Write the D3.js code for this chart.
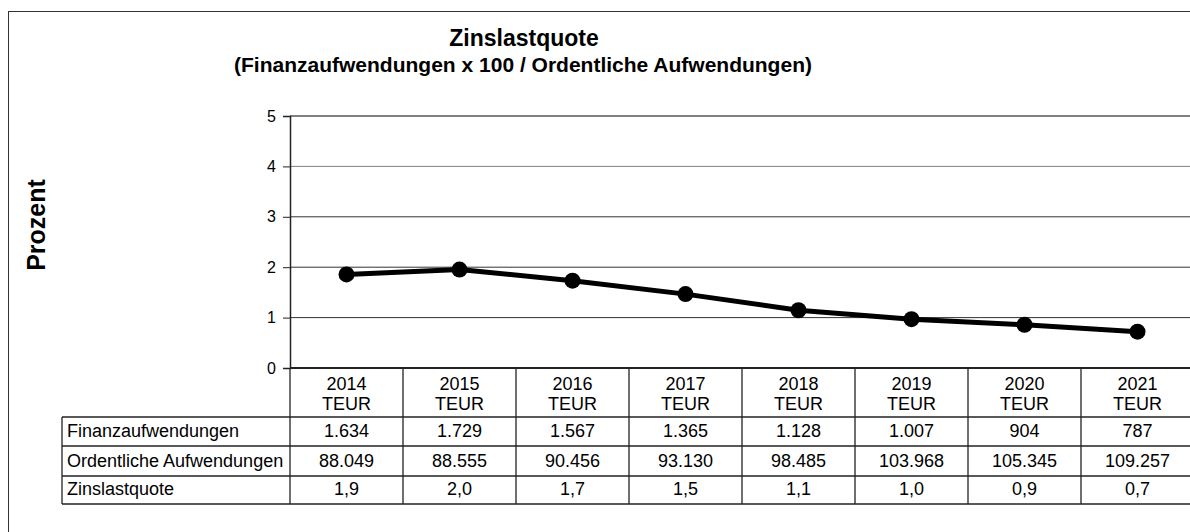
<!DOCTYPE html>
<head>
  <meta charset="utf-8">
  <script src="https://d3js.org/d3.v7.min.js"></script>
  <style>
    body { margin: 0; background: #fff; }
    svg { display: block; font-family: Arial, "Liberation Sans", sans-serif; }
    .title { font-weight: bold; fill: #000; }
    .cell { font-size: 18px; fill: #000; }
    .axis-y text { font-size: 16px; fill: #000; }
  </style>
</head>
<body>

  <svg width="1190" height="532"></svg>

  <script>

  // Data
  var years = ["2014", "2015", "2016", "2017", "2018", "2019", "2020", "2021"];
  var finanz = [1634, 1729, 1567, 1365, 1128, 1007, 904, 787];
  var ordentlich = [88049, 88555, 90456, 93130, 98485, 103968, 105345, 109257];
  var quote = [1.856, 1.953, 1.732, 1.466, 1.146, 0.969, 0.858, 0.720];
  var yTicks = [0, 1, 2, 3, 4, 5];
  var rowLabels = ["Finanzaufwendungen", "Ordentliche Aufwendungen", "Zinslastquote"];

  var svg = d3.select('svg');

  // German number format
  var de = d3.formatLocale({decimal: ",", thousands: ".", grouping: [3], currency: ["", " €"]});
  var fmtInt = de.format(",d");
  var fmtDec = de.format(".1f");

  var plotLeft = 290, plotTop = 116, plotBottom = 368, colW = 113;
  var tableLeft = 62;

  var x = d3.scaleBand().domain(years).range([plotLeft, plotLeft + colW * years.length]);
  var y = d3.scaleLinear().domain([0, 5]).range([plotBottom, plotTop]);

  // outer frame
  svg.append('rect')
    .attr('x', 8.5).attr('y', 11.5)
    .attr('width', 1200).attr('height', 540)
    .attr('fill', 'none').attr('stroke', '#333').attr('stroke-width', 1);

  // titles
  svg.append('text').attr('class', 'title')
    .attr('x', 524).attr('y', 46)
    .attr('text-anchor', 'middle')
    .style('font-size', '23px')
    .text('Zinslastquote');

  svg.append('text').attr('class', 'title')
    .attr('x', 523).attr('y', 72)
    .attr('text-anchor', 'middle')
    .style('font-size', '21px')
    .text('(Finanzaufwendungen x 100 / Ordentliche Aufwendungen)');

  svg.append('text').attr('class', 'title')
    .attr('transform', 'translate(45,225) rotate(-90)')
    .attr('text-anchor', 'middle')
    .style('font-size', '25px')
    .text('Prozent');

  // grid lines
  svg.append('g').selectAll('line')
    .data(yTicks.filter(function(d) { return d > 0; }))
    .enter().append('line')
    .attr('x1', plotLeft).attr('x2', x.range()[1])
    .attr('y1', function(d) { return y(d); })
    .attr('y2', function(d) { return y(d); })
    .attr('stroke', function(d) { return d >= 4 ? '#808080' : '#333'; })
    .attr('stroke-width', function(d) { return d == 5 ? 2 : 1; });

  // y axis
  var yAxis = d3.axisLeft(y).tickValues(yTicks).tickSize(7).tickPadding(7).tickFormat(d3.format('d'));
  var gy = svg.append('g')
    .attr('class', 'axis-y')
    .attr('transform', 'translate(' + plotLeft + ',0)')
    .call(yAxis);
  gy.select('.domain').attr('stroke', '#222').attr('stroke-width', 1.5);
  gy.selectAll('.tick line').attr('stroke', '#222');

  // line + markers
  var line = d3.line()
    .x(function(d, i) { return x(years[i]) + x.bandwidth() / 2; })
    .y(function(d) { return y(d); });

  svg.append('path')
    .datum(quote)
    .attr('d', line)
    .attr('fill', 'none')
    .attr('stroke', '#000')
    .attr('stroke-width', 5)
    .attr('stroke-linejoin', 'round');

  svg.append('g').selectAll('circle')
    .data(quote)
    .enter().append('circle')
    .attr('cx', function(d, i) { return x(years[i]) + x.bandwidth() / 2; })
    .attr('cy', function(d) { return y(d); })
    .attr('r', 8)
    .attr('fill', '#000');

  // data table
  var rowTops = [368, 417, 446, 476, 504];
  var table = svg.append('g').attr('class', 'table');
  var tableRight = x.range()[1];

  // x axis line (top of table)
  table.append('line')
    .attr('x1', plotLeft).attr('x2', tableRight)
    .attr('y1', rowTops[0]).attr('y2', rowTops[0])
    .attr('stroke', '#222').attr('stroke-width', 2);

  // horizontal rules
  table.selectAll('line.h')
    .data(rowTops.slice(1))
    .enter().append('line').attr('class', 'h')
    .attr('x1', tableLeft).attr('x2', tableRight)
    .attr('y1', function(d) { return d; }).attr('y2', function(d) { return d; })
    .attr('stroke', '#222').attr('stroke-width', 1.3);

  // vertical rules
  table.selectAll('line.v')
    .data(years.concat(['end']))
    .enter().append('line').attr('class', 'v')
    .attr('x1', function(d, i) { return plotLeft + i * colW; })
    .attr('x2', function(d, i) { return plotLeft + i * colW; })
    .attr('y1', rowTops[0]).attr('y2', rowTops[4])
    .attr('stroke', '#222').attr('stroke-width', 1.3);

  table.append('line')
    .attr('x1', tableLeft).attr('x2', tableLeft)
    .attr('y1', rowTops[1]).attr('y2', rowTops[4])
    .attr('stroke', '#222').attr('stroke-width', 1.3);

  // header cells
  var head = table.selectAll('g.head')
    .data(years)
    .enter().append('g').attr('class', 'head')
    .attr('transform', function(d) { return 'translate(' + (x(d) + x.bandwidth() / 2) + ',0)'; });
  head.append('text').attr('class', 'cell')
    .attr('y', 390).attr('text-anchor', 'middle')
    .text(function(d) { return d; });
  head.append('text').attr('class', 'cell')
    .attr('y', 410).attr('text-anchor', 'middle')
    .text('TEUR');

  // rows
  var baselines = [437, 467, 495];
  var rows = [finanz.map(fmtInt), ordentlich.map(fmtInt), quote.map(fmtDec)];

  table.selectAll('text.label')
    .data(rowLabels)
    .enter().append('text').attr('class', 'cell label')
    .attr('x', 67)
    .attr('y', function(d, i) { return baselines[i]; })
    .text(function(d) { return d; });

  rows.forEach(function(r, ri) {
    table.append('g').selectAll('text')
      .data(r)
      .enter().append('text').attr('class', 'cell')
      .attr('x', function(d, i) { return x(years[i]) + x.bandwidth() / 2; })
      .attr('y', baselines[ri])
      .attr('text-anchor', 'middle')
      .text(function(d) { return d; });
  });

  </script>

</body>
